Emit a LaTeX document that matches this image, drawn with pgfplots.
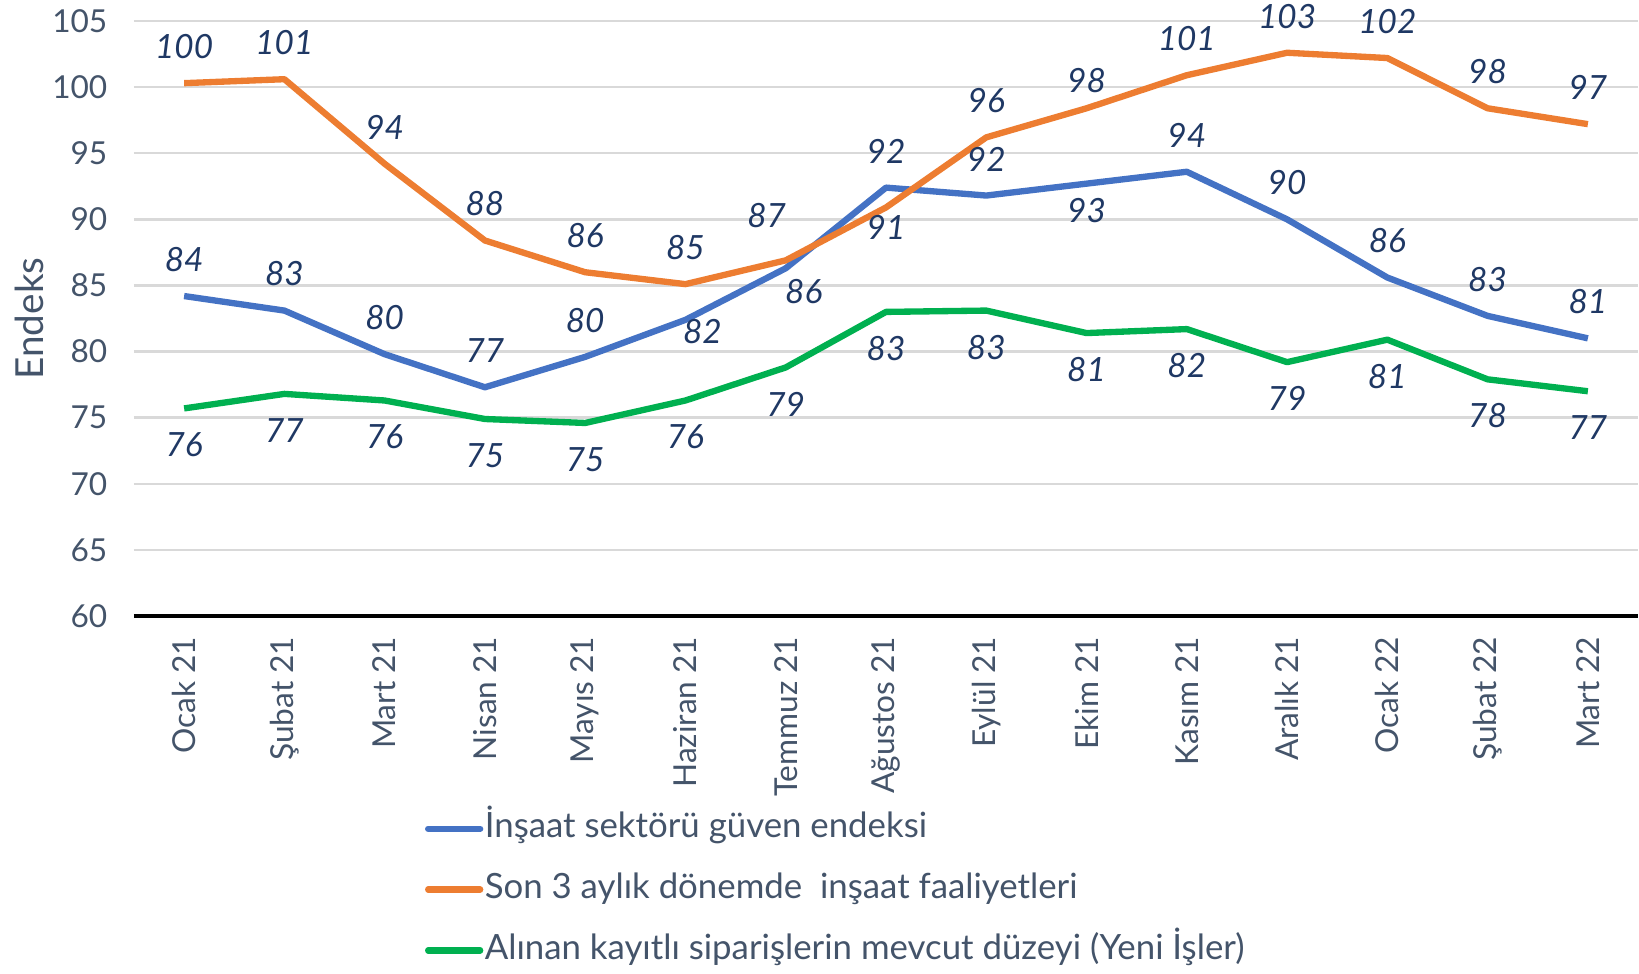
\documentclass[border=0pt]{standalone}
\usepackage{fontspec}
\setmainfont{Lato}
\usepackage{pgfplots}
\usepackage{pgfplotstable}
\pgfplotsset{compat=1.18}

\definecolor{cblue}{HTML}{4472C4}
\definecolor{corange}{HTML}{ED7D31}
\definecolor{cgreen}{HTML}{00B050}
\definecolor{txt}{HTML}{44546A}
\definecolor{lbl}{HTML}{1F3864}
\definecolor{grd}{HTML}{D9D9D9}

% x y label dx(mm) dy(mm)
\pgfplotstableread{
x y lab dx dy
0 84.2 84 0 3.66
1 83.1 83 0 3.66
2 79.8 80 0 3.66
3 77.3 77 0 3.66
4 79.6 80 0 3.66
5 82.4 82 1.7 -1.15
6 86.3 86 1.8 -2.3
7 92.4 92 0 3.66
8 91.8 92 0 3.66
9 92.7 93 0 -2.7
10 93.6 94 0 3.66
11 90.0 90 0 3.66
12 85.6 86 0 3.66
13 82.7 83 0 3.66
14 81.0 81 0 3.66
}\guven

\pgfplotstableread{
x y lab dx dy
0 100.3 100 0 3.66
1 100.6 101 0 3.66
2 94.2 94 0 3.66
3 88.4 88 0 3.66
4 86.0 86 0 3.66
5 85.1 85 0 3.66
6 86.9 87 -1.9 4.5
7 90.9 91 0 -2.0
8 96.2 96 0 3.66
9 98.4 98 0 2.8
10 100.9 101 0 3.66
11 102.6 103 0 3.66
12 102.2 102 0 3.66
13 98.4 98 0 3.66
14 97.2 97 0 3.66
}\faaliyet

\pgfplotstableread{
x y lab dx dy
0 75.7 76 0 -3.66
1 76.8 77 0 -3.66
2 76.3 76 0 -3.66
3 74.9 75 0 -3.66
4 74.6 75 0 -3.66
5 76.3 76 0 -3.66
6 78.8 79 0 -3.66
7 83.0 83 0 -3.66
8 83.1 83 0 -3.66
9 81.4 81 0 -3.66
10 81.7 82 0 -3.66
11 79.2 79 0 -3.66
12 80.9 81 0 -3.66
13 77.9 78 0 -3.66
14 77.0 77 0 -3.66
}\siparis

\begin{document}
\begin{tikzpicture}
\begin{axis}[
  at={(0,0)}, anchor=south west,
  scale only axis,
  width=150.4mm, height=59.5mm,
  xmin=-0.5, xmax=14.5,
  ymin=60, ymax=105,
  ytick={60,65,...,105},
  xtick={0,...,14},
  xticklabels={Ocak 21,Şubat 21,Mart 21,Nisan 21,Mayıs 21,Haziran 21,Temmuz 21,Ağustos 21,Eylül 21,Ekim 21,Kasım 21,Aralık 21,Ocak 22,Şubat 22,Mart 22},
  /pgf/number format/assume math mode=true,
  axis x line*=bottom,
  axis y line*=left,
  x axis line style={-, black, line width=0.9pt},
  y axis line style={draw=none},
  major tick length=0pt,
  tick style={draw=none},
  ymajorgrids,
  grid style={grd, line width=0.7pt},
  yticklabel style={font=\fontsize{9}{10}\selectfont, text=txt, inner sep=0pt, anchor=east, xshift=-2.6mm},
  xticklabel style={yshift=-2.0mm, font=\fontsize{9}{10}\selectfont, text=txt, rotate=90, anchor=east, inner sep=0pt},
  ylabel={Endeks},
  every axis y label/.style={at={(axis description cs:0,0.5)}, xshift=-10.5mm, rotate=90, anchor=center, font=\fontsize{11}{12}\selectfont, text=txt},
  legend style={at={(axis description cs:0.1935,-0.331)}, anchor=north west, draw=none, fill=none,
    inner sep=0pt, outer sep=0pt, row sep=8.3pt, font=\fontsize{9.9}{12}\selectfont, text=txt,
    nodes={inner sep=0pt, text height=7pt, text depth=2pt}},
  legend cell align=left,
  legend image code/.code={\draw[#1, line cap=round] (0mm,0mm) -- (5.2mm,0mm);},
  /tikz/every odd column/.append style={column sep=0.15mm},
  every axis plot/.append style={line width=1.8pt, line join=round, no markers},
  nodes near coords,
  point meta=explicit symbolic,
  visualization depends on={\thisrow{dx} \as \mydx},
  visualization depends on={\thisrow{dy} \as \mydy},
  every node near coord/.append style={anchor=center, xshift=\mydx mm, yshift=\mydy mm,
    font=\fontsize{9.5}{10}\selectfont\itshape, text=lbl, inner sep=0pt},
]
\addplot[cblue] table[x=x, y=y, meta=lab] {\guven};
\addplot[corange] table[x=x, y=y, meta=lab] {\faaliyet};
\addplot[cgreen] table[x=x, y=y, meta=lab] {\siparis};
\legend{İnşaat sektörü güven endeksi,Son 3 aylık dönemde\ \ inşaat faaliyetleri,Alınan kayıtlı siparişlerin mevcut düzeyi (Yeni İşler)}
\end{axis}
\pgfresetboundingbox
\path (-13.4mm,-35.73mm) rectangle (150.5mm,61.6mm);
\end{tikzpicture}
\end{document}
